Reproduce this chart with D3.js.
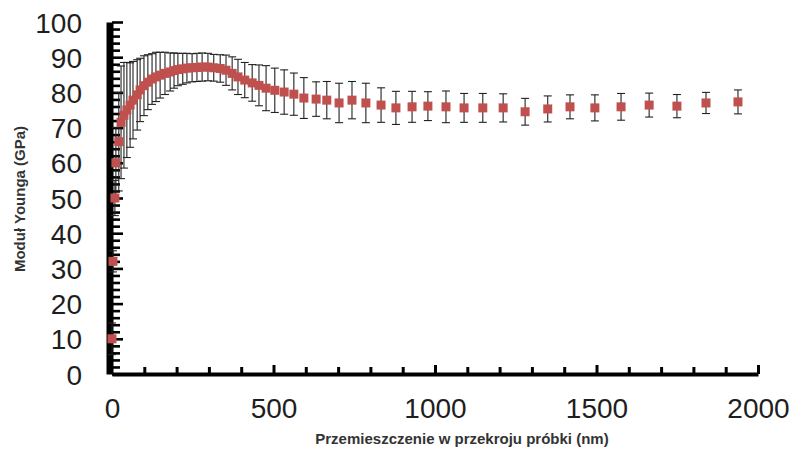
<!DOCTYPE html>
<html>
<head>
<meta charset="utf-8">
<script src="https://cdn.jsdelivr.net/npm/d3@7"></script>
<style>
  body { margin: 0; background: #fff; }
  svg { display: block; font-family: "Liberation Sans", Arial, sans-serif; }
</style>
</head>
<body>
<svg width="807" height="454"></svg>
<script>
// Dane: przemieszczenie (nm), moduł Younga (GPa), odchylenie (GPa)
const xValues = [0, 3, 9, 12, 21,
  28, 37, 46, 56, 65, 78, 87, 99, 111, 124, 136, 149, 164, 180, 192, 204, 219, 232, 248, 263,
  279, 297, 315, 335, 353, 372, 390, 411, 434, 455, 477, 504, 533, 563,
  594, 632, 665, 703, 743, 786, 833, 879, 929, 978, 1034, 1090, 1148, 1211, 1279, 1349,
  1418, 1495, 1576, 1663, 1749, 1839, 1938];
const yValues = [10, 32, 50, 60, 66,
  71.5, 73.5, 75, 76.4, 77.8, 79.3, 80.7, 81.9, 82.9, 83.8, 84.4, 84.9, 85.4, 85.8, 86.2, 86.5, 86.7, 86.9, 87, 87.1,
  87.2, 87.2, 87, 86.8, 86.3, 85.4, 84.4, 83.5, 82.7, 82, 81.2, 80.6, 80.1, 79.5,
  78.4, 78.1, 77.8, 77, 77.8, 77, 76.4, 75.6, 75.9, 76.1, 75.9, 75.6, 75.6, 75.6, 74.5, 75.3,
  75.9, 75.6, 75.9, 76.4, 76.1, 77, 77.3];
const errValues = [4.5, 3, 5, 10, 14,
  16, 15, 13.5, 12, 11, 10, 9, 8.5, 7.8, 7.2, 7, 6.5, 6, 5.4, 5, 4.6, 4.4, 4.2, 4, 4,
  4, 3.9, 3.8, 3.9, 4.3, 4.7, 5, 5, 5.2, 5.8, 6.4, 6.3, 6.3, 6,
  5.8, 4.9, 5.3, 5.6, 5.3, 5.6, 4.9, 4.7, 4.4, 4.1, 4.5, 4.1, 4.1, 4, 3.8, 3.7,
  3.4, 3.7, 3.8, 3.4, 3.3, 3, 3.4];

const xTicks = [0, 500, 1000, 1500, 2000];
const yTicks = [0, 10, 20, 30, 40, 50, 60, 70, 80, 90, 100];

const data = xValues.map((v, i) => ({ x: v, y: yValues[i], e: errValues[i] }));

const svg = d3.select("svg");

const x = d3.scaleLinear().domain([0, 2000]).range([112, 758]);
const y = d3.scaleLinear().domain([0, 100]).range([374, 22]);

// Etykiety osi Y
svg.append("g")
  .attr("transform", `translate(82,0)`)
  .call(d3.axisLeft(y).tickValues(yTicks).tickSize(0).tickPadding(0))
  .call(g => g.select(".domain").remove())
  .call(g => g.selectAll("text")
    .attr("font-size", 28)
    .attr("fill", "#1e1e1e")
    .attr("dy", "0.36em"));

// Oś X
const xAxisG = svg.append("g")
  .attr("transform", `translate(0,${y(0)})`)
  .call(d3.axisBottom(x).tickValues(d3.range(100, 2001, 100)).tickSizeInner(-7).tickSizeOuter(0).tickFormat(""));
xAxisG.select(".domain")
  .attr("stroke", "#000")
  .attr("stroke-width", 4);
xAxisG.selectAll(".tick line")
  .attr("stroke", "#000")
  .attr("stroke-width", 3)
  .attr("y2", d => d % 500 === 0 ? -9 : -7);

svg.append("g")
  .attr("transform", `translate(0,398)`)
  .call(d3.axisBottom(x).tickValues(xTicks).tickSize(0).tickPadding(0).tickFormat(d3.format("d")))
  .call(g => g.select(".domain").remove())
  .call(g => g.selectAll("text")
    .attr("font-size", 28)
    .attr("fill", "#1e1e1e")
    .attr("dy", "0.72em"));

// Oś Y - gruby pasek z gęstymi podziałkami
const yAxisG = svg.append("g")
  .attr("transform", `translate(${x(0)},0)`)
  .call(d3.axisRight(y).tickValues(d3.range(0, 101, 2)).tickSizeInner(8).tickSizeOuter(0).tickFormat(""));
yAxisG.select(".domain")
  .attr("stroke", "#000")
  .attr("stroke-width", 7)
  .attr("transform", "translate(-2.5,0)");
yAxisG.selectAll(".tick line")
  .attr("stroke", "#000")
  .attr("stroke-width", 2.6)
  .attr("x2", d => d % 10 === 0 ? 11 : 8);

// Tytuły osi
svg.append("text")
  .attr("transform", "translate(25,199) rotate(-90)")
  .attr("text-anchor", "middle")
  .attr("font-size", 15)
  .attr("font-weight", "bold")
  .attr("fill", "#333")
  .text("Moduł Younga (GPa)");

svg.append("text")
  .attr("x", 462)
  .attr("y", 444)
  .attr("text-anchor", "middle")
  .attr("font-size", 15)
  .attr("font-weight", "bold")
  .attr("fill", "#333")
  .text("Przemieszczenie w przekroju próbki (nm)");

// Słupki błędów
const bars = svg.append("g")
  .attr("stroke", "#222")
  .attr("stroke-width", 1.1);

bars.selectAll(".bar")
  .data(data)
  .join("line")
  .attr("class", "bar")
  .attr("x1", d => x(d.x)).attr("x2", d => x(d.x))
  .attr("y1", d => y(d.y + d.e)).attr("y2", d => y(d.y - d.e));

bars.selectAll(".capTop")
  .data(data)
  .join("line")
  .attr("class", "capTop")
  .attr("x1", d => x(d.x) - 4).attr("x2", d => x(d.x) + 4)
  .attr("y1", d => y(d.y + d.e)).attr("y2", d => y(d.y + d.e));

bars.selectAll(".capBot")
  .data(data)
  .join("line")
  .attr("class", "capBot")
  .attr("x1", d => x(d.x) - 4).attr("x2", d => x(d.x) + 4)
  .attr("y1", d => y(d.y - d.e)).attr("y2", d => y(d.y - d.e));

// Punkty
svg.append("g")
  .selectAll("rect")
  .data(data)
  .join("rect")
  .attr("x", d => x(d.x) - 4.5)
  .attr("y", d => y(d.y) - 4.5)
  .attr("width", 9)
  .attr("height", 9)
  .attr("fill", "#c0504d");
</script>
</body>
</html>
